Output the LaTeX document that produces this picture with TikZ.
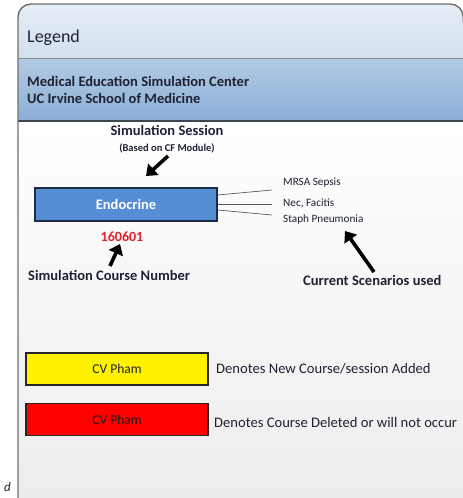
\documentclass[tikz,border=0pt]{standalone}
\usepackage{fontspec}
\setmainfont{Carlito}
\usetikzlibrary{arrows.meta}

\definecolor{titletop}{HTML}{E6EEF6}
\definecolor{titlebot}{HTML}{D2DFEC}
\definecolor{bandtop}{HTML}{B2CAE4}
\definecolor{bandbot}{HTML}{8CAFD6}
\definecolor{bandline}{HTML}{3E4750}
\definecolor{panelline}{HTML}{6E6E6E}
\definecolor{bodybot}{HTML}{EDEDED}
\definecolor{inkdark}{HTML}{1E2233}
\definecolor{endofill}{HTML}{558ED5}
\definecolor{endoline}{HTML}{1F2A44}
\definecolor{coursered}{HTML}{E0202A}
\definecolor{leadline}{HTML}{5A5A5A}

\tikzset{
  txt/.style={inner sep=0pt, text=inkdark},
  bold/.style={txt, font=\fontsize{14.5}{16}\selectfont\bfseries},
  small/.style={txt, font=\fontsize{11.2}{13}\selectfont},
  note/.style={txt, font=\fontsize{14.6}{16}\selectfont},
  swatch/.style={draw=black!85, line width=1.2pt, minimum width=182pt,
    minimum height=32pt, inner sep=0pt, text=inkdark,
    font=\fontsize{13.5}{15}\selectfont},
  pointer/.style={line width=3.6pt, black,
    -{Triangle[length=10pt,width=15pt]}},
  lead/.style={leadline, line width=0.7pt}
}

\begin{document}
\begin{tikzpicture}[x=1pt,y=-1pt]
\useasboundingbox (0,0) rectangle (463,498);
\clip (0,0) rectangle (463,498);

% panel body with its two header bands
\begin{scope}
  \clip[rounded corners=13pt] (18,520) |- (463.2,4) -- (463.2,520) -- cycle;
  \shade[top color=white, bottom color=bodybot] (18,121) rectangle (464,498);
  \shade[top color=titletop, bottom color=titlebot] (18,4) rectangle (464,58);
  \shade[top color=bandtop, bottom color=bandbot] (18,58) rectangle (464,121);
  \draw[black!45, line width=0.8pt] (18,58.5) -- (464,58.5);
  \draw[bandline, line width=1.8pt] (18,121) -- (464,121);
\end{scope}
\draw[panelline, line width=1.4pt, rounded corners=13pt]
  (18,520) |- (463.2,4) -- (463.2,22);

% headers
\node[txt, anchor=west, font=\fontsize{18}{20}\selectfont] (legend) at (27,38) {Legend};
\node[bold, anchor=west, align=left, font=\fontsize{14.5}{17.5}\selectfont\bfseries]
  (center) at (27,90) {Medical Education Simulation Center\\UC Irvine School of Medicine};

% session box and its scenarios
\node[draw=endoline, line width=1.3pt, fill=endofill, minimum width=182pt,
  minimum height=33pt, inner sep=0pt, text=white,
  font=\fontsize{14.5}{16}\selectfont\bfseries] (endo) at (126,204.5) {Endocrine};

\node[bold] (session) at (167,130) {Simulation Session};
\node[txt, font=\fontsize{10.5}{12}\selectfont\bfseries] (module) at (167,148) {(Based on CF Module)};

\node[small, anchor=west] (mrsa) at (283,183) {MRSA Sepsis};
\node[small, anchor=west] (nec) at (283,203) {Nec, Facitis};
\node[small, anchor=west] (staph) at (283,220) {Staph Pneumonia};

\draw[lead] ([yshift=9.5pt]endo.east) -- ([xshift=-11pt,yshift=-7pt]mrsa.west);
\draw[lead] ([yshift=0.5pt]endo.east) -- ([xshift=-11pt,yshift=-1pt]nec.west);
\draw[lead] ([yshift=-5.5pt]endo.east) -- ([xshift=-11pt,yshift=5pt]staph.west);

\node[txt, text=coursered, font=\fontsize{14}{16}\selectfont\bfseries] (number) at (122,237) {160601};

\node[bold, anchor=west] (coursenum) at (28,275) {Simulation Course Number};
\node[bold, anchor=west] (scen) at (303,280) {Current Scenarios used};

% pointers
\coordinate (p1tail) at (168,156);
\coordinate (p1head) at (146,176);
\draw[pointer] (p1tail) -- (p1head);
\coordinate (p2tail) at (110,266);
\coordinate (p2head) at (120,244);
\draw[pointer] (p2tail) -- (p2head);
\coordinate (p3tail) at (374,272);
\coordinate (p3head) at (345,231);
\draw[pointer] (p3tail) -- (p3head);

% colour key
\node[swatch, fill=yellow] (added) at (117,369) {CV Pham};
\node[note, anchor=west] (addedtxt) at (216,369) {Denotes New Course/session Added};
\node[swatch, fill=red, text=black!90] (deleted) at (117,419.5) {CV Pham};
\node[note, anchor=west] (deletedtxt) at (214,422) {Denotes Course Deleted or will not occur};

% trailing letter at the left margin
\node[txt, anchor=east, font=\fontsize{13}{15}\selectfont\itshape] (tail) at (11,487) {d};
\end{tikzpicture}
\end{document}
